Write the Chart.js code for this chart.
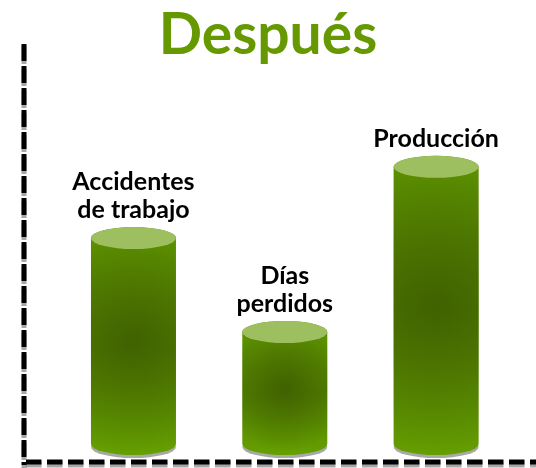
<!DOCTYPE html>
<html>
<head>
<meta charset="utf-8">
<script src="https://cdn.jsdelivr.net/npm/chart.js@4"></script>
<style>
    html, body { margin: 0; padding: 0; background: #fff; }
    #wrap { width: 536px; height: 468px; position: relative; }
</style>
</head>
<body>
<div id="wrap"><canvas id="afterChart"></canvas></div>
<script>
const categories = ['Accidentes de trabajo', 'Días perdidos', 'Producción'];
const labelLines = [['Accidentes', 'de trabajo'], ['Días', 'perdidos'], ['Producción']];
const positions = [1, 2, 3];
const values = [51.5, 28, 69.3];

document.addEventListener('DOMContentLoaded', () => {
    const ctx = document.getElementById('afterChart').getContext('2d');

    // Draw each bar as a cylinder
    function drawCylinder(c, x, top, base, w) {
        const rx = w / 2;
        const ry = 11;
        const left = x - rx;

        // grey shadow under the bottom
        c.fillStyle = '#a8a8a8';
        c.beginPath();
        c.ellipse(x, base + 3, rx, ry, 0, 0, Math.PI * 2);
        c.fill();

        // body outline
        const body = new Path2D();
        body.moveTo(left, top);
        body.lineTo(left, base);
        body.ellipse(x, base, rx, ry, 0, Math.PI, 0, true);
        body.lineTo(left + w, top);
        body.ellipse(x, top, rx, ry, 0, 0, Math.PI, true);
        body.closePath();

        const lin = c.createLinearGradient(0, top, 0, base + ry);
        lin.addColorStop(0, '#5e9300');
        lin.addColorStop(0.5, '#528200');
        lin.addColorStop(1, '#66a000');
        c.fillStyle = lin;
        c.fill(body);

        const mid = (top + base) / 2;
        const rad = c.createRadialGradient(x, mid, 0, x, mid, Math.max(w * 0.75, (base - top) * 0.55));
        rad.addColorStop(0, 'rgba(62, 92, 0, 0.85)');
        rad.addColorStop(1, 'rgba(62, 92, 0, 0)');
        c.fillStyle = rad;
        c.fill(body);

        // top cap
        c.fillStyle = '#9ebf60';
        c.beginPath();
        c.ellipse(x, top, rx, ry, 0, 0, Math.PI * 2);
        c.fill();
    }

    // Dashed axes with a small grey drop shadow
    const dashedAxes = {
        id: 'dashedAxes',
        afterDraw(chart) {
            const c = chart.ctx;
            const area = chart.chartArea;
            c.save();
            c.strokeStyle = '#000';
            c.lineWidth = 5;
            c.shadowColor = 'rgba(0, 0, 0, 0.35)';
            c.shadowOffsetY = 3;
            c.shadowBlur = 0;

            c.setLineDash([17, 5]);
            c.beginPath();
            c.moveTo(area.left + 1, area.top);
            c.lineTo(area.left + 1, area.bottom + 3);
            c.stroke();

            c.setLineDash([15.5, 5.5]);
            c.beginPath();
            c.moveTo(area.left + 3, area.bottom);
            c.lineTo(area.right, area.bottom);
            c.stroke();
            c.restore();
        }
    };

    const cylinderPlugin = {
        id: 'cylinders',
        afterDatasetsDraw(chart) {
            const c = chart.ctx;
            const meta = chart.getDatasetMeta(0);
            c.save();
            meta.data.forEach((bar, i) => {
                const { x, y, base, width } = bar.getProps(['x', 'y', 'base', 'width'], true);
                drawCylinder(c, x, y, base, width);

                // label above the bar
                const lines = labelLines[i];
                c.fillStyle = '#000';
                c.font = 'bold 25px Lato';
                c.textAlign = 'center';
                c.textBaseline = 'alphabetic';
                let yy = y - 20 - (lines.length - 1) * 28;
                lines.forEach(line => {
                    c.fillText(line, x, yy);
                    yy += 28;
                });
            });
            c.restore();
        }
    };

    new Chart(ctx, {
        type: 'bar',
        data: {
            labels: categories,
            datasets: [{
                label: 'Después',
                data: positions.map((p, i) => ({ x: p, y: values[i] })),
                backgroundColor: 'rgba(0,0,0,0)',
                borderWidth: 0,
                barThickness: 85
            }]
        },
        options: {
            responsive: true,
            maintainAspectRatio: false,
            animation: false,
            layout: {
                padding: { left: 0, right: 0, top: 0, bottom: 6 }
            },
            plugins: {
                legend: { display: false },
                tooltip: { enabled: false },
                title: {
                    display: true,
                    text: 'Después',
                    color: '#669900',
                    font: { family: 'Lato', size: 57, weight: 'bold', lineHeight: 0.3 },
                    padding: { top: 27, bottom: 0 }
                }
            },
            scales: {
                x: {
                    type: 'linear',
                    offset: false,
                    min: 0.27,
                    max: 3.66,
                    grid: { display: false, drawTicks: false },
                    ticks: { display: false },
                    border: { display: false }
                },
                y: {
                    min: -4.5,
                    max: 100,
                    grid: { display: false, drawTicks: false },
                    ticks: { display: false },
                    border: { display: false },
                    afterFit(scale) { scale.width = 23; }
                }
            }
        },
        plugins: [cylinderPlugin, dashedAxes]
    });
});
</script>
</body>
</html>
